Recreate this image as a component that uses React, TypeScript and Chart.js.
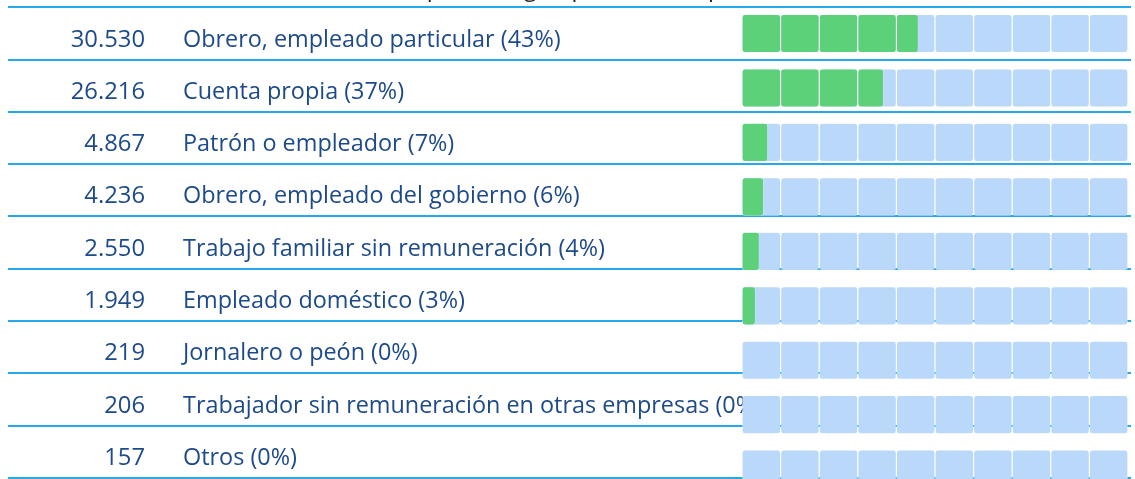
import React, { useEffect, useRef } from "react";
import { Chart, registerables } from "chart.js";

Chart.register(...registerables);

// ---- data ----
const titleText = "Ocupados según posición ocupacional";
const categories = [
  "Obrero, empleado particular",
  "Cuenta propia",
  "Patrón o empleador",
  "Obrero, empleado del gobierno",
  "Trabajo familiar sin remuneración",
  "Empleado doméstico",
  "Jornalero o peón",
  "Trabajador sin remuneración en otras empresas",
  "Otros",
];
const counts = [30530, 26216, 4867, 4236, 2550, 1949, 219, 206, 157];
const percentLabels = [43, 37, 7, 6, 4, 3, 0, 0, 0];
// filled share of each bar as drawn in the picture (percent of 100)
const barShare = [45.7, 36.7, 6.7, 5.6, 4.5, 3.5, 0, 0, 0];
// the bar is split in 10 blocks of 10 %
const segmentStarts = [0, 10, 20, 30, 40, 50, 60, 70, 80, 90];
// row index range of the text table (row lines sit at integer values)
const tableRange = [-0.019, 9.352];

const TEXT_COLOR = "#1d4a89";
const LINE_COLOR = "#26a9e8";
const FILL_COLOR = "#5dd07a";
const TRACK_COLOR = "#bad8f9";
const FONT = '23.4px "Open Sans"';
const NUM_FONT = '23.8px "Open Sans"';

function formatCount(n: number): string {
  const s = String(n);
  return s.replace(/\B(?=(\d{3})+(?!\d))/g, ".");
}

const tablePlugin = {
  id: "tableText",
  beforeDatasetsDraw(chart: any) {
    const ctx = chart.ctx as CanvasRenderingContext2D;
    const yt = chart.scales.yt;
    ctx.save();
    // title (mostly cut off at the top of the page)
    ctx.font = FONT;
    ctx.fillStyle = "#222222";
    ctx.textAlign = "left";
    ctx.textBaseline = "alphabetic";
    ctx.fillText(titleText, 383, yt.getPixelForValue(0) - 11);

    // separator lines
    ctx.strokeStyle = LINE_COLOR;
    ctx.lineWidth = 2;
    for (let k = 0; k <= categories.length; k++) {
      const y = Math.round(yt.getPixelForValue(k));
      ctx.beginPath();
      ctx.moveTo(8, y);
      ctx.lineTo(1131, y);
      ctx.stroke();
    }

    // rows
    ctx.fillStyle = TEXT_COLOR;
    categories.forEach((cat, i) => {
      const y = yt.getPixelForValue(i + 1) - 13;
      ctx.font = NUM_FONT;
      ctx.textAlign = "right";
      ctx.fillText(formatCount(counts[i]), 145, y);
      ctx.font = FONT;
      ctx.textAlign = "left";
      ctx.fillText(`${cat} (${percentLabels[i]}%)`, 183, y);
    });
    ctx.restore();
  },
};

export default function App() {
  const canvasRef = useRef<HTMLCanvasElement | null>(null);

  useEffect(() => {
    const canvas = canvasRef.current;
    if (!canvas) return;

    const common = {
      borderColor: "rgba(255,255,255,0.45)",
      borderWidth: 0.6,
      borderRadius: 3,
      borderSkipped: false,
      grouped: false,
      categoryPercentage: 1,
      barPercentage: 0.705,
    };

    const fillSets = segmentStarts.map((s) => ({
      ...common,
      label: `fill ${s}`,
      data: barShare.map((v) => (v > s ? [s, Math.min(s + 10, v)] : null)),
      backgroundColor: FILL_COLOR,
      order: 0,
    }));

    const trackSets = segmentStarts.map((s) => ({
      ...common,
      label: `track ${s}`,
      data: categories.map(() => [s, s + 10]),
      backgroundColor: TRACK_COLOR,
      order: 1,
    }));

    const chart = new Chart(canvas, {
      type: "bar",
      data: {
        labels: categories,
        datasets: [...fillSets, ...trackSets] as any,
      },
      options: {
        indexAxis: "y",
        animation: false,
        responsive: false,
        events: [],
        layout: { padding: { left: 742, right: 7, top: 36.3, bottom: 3.6 } },
        plugins: {
          legend: { display: false },
          tooltip: { enabled: false },
          title: { display: false },
        },
        scales: {
          x: { type: "linear", min: 0, max: 100, display: false, offset: false },
          y: { type: "category", display: false, offset: true },
          yt: {
            type: "linear",
            axis: "y",
            position: "left",
            display: false,
            reverse: true,
            offset: false,
            bounds: "data",
            grace: 0,
            min: tableRange[0],
            max: tableRange[1],
          },
        },
      } as any,
      plugins: [tablePlugin],
    });

    return () => chart.destroy();
  }, []);

  return (
    <div
      style={{
        position: "absolute",
        left: 0,
        top: -30,
        width: 1135,
        height: 530,
      }}
    >
      <canvas ref={canvasRef} width={1135} height={530} style={{ display: "block" }} />
    </div>
  );
}
